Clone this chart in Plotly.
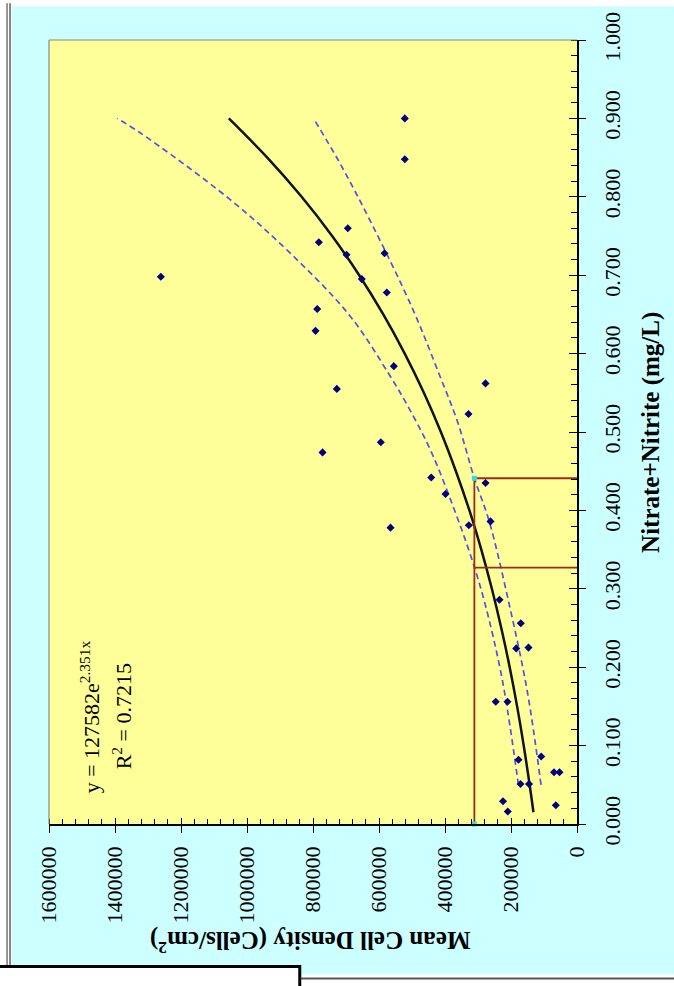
import plotly.graph_objects as go

# ---------------- data ----------------
nitrate = [0.900, 0.848, 0.698, 0.760, 0.742, 0.726, 0.728, 0.695, 0.678, 0.657,
           0.629, 0.584, 0.562, 0.555, 0.523, 0.487, 0.474, 0.442, 0.435, 0.421,
           0.381, 0.378, 0.386, 0.286, 0.256, 0.224, 0.225, 0.156, 0.156, 0.082,
           0.086, 0.066, 0.066, 0.051, 0.051, 0.029, 0.016, 0.024]
density = [521800, 521800, 1261100, 694500, 782300, 698400, 583300, 652100, 576300, 787200,
           792300, 555100, 277200, 727800, 328800, 594500, 771100, 441800, 277200, 398400,
           327800, 565100, 262100, 234800, 170300, 184200, 147000, 246300, 210600, 177300,
           108500, 69700, 53000, 171200, 145400, 224200, 209700, 64200]

fit_nitrate = [0.015, 0.05, 0.10, 0.15, 0.20, 0.25, 0.30, 0.35, 0.40, 0.45,
               0.50, 0.55, 0.60, 0.65, 0.70, 0.75, 0.80, 0.85, 0.90]
fit_density = [132000, 143500, 161500, 181500, 204000, 229500, 258000, 290000, 326000, 367000,
               412500, 464000, 522000, 587000, 660000, 742000, 834500, 938500, 1055000]

upper_nitrate = [0.05, 0.183, 0.285, 0.348, 0.407, 0.471, 0.522, 0.573, 0.649, 0.729, 0.797, 0.882, 0.90]
upper_density = [177600, 226000, 281300, 326700, 377200, 437700, 498200, 568700, 689700, 871200, 1052700, 1325000, 1393600]

lower_nitrate = [0.05, 0.17, 0.285, 0.386, 0.441, 0.513, 0.573, 0.657, 0.763, 0.844, 0.90]
lower_density = [109000, 151000, 208000, 266000, 311000, 362000, 417000, 498000, 619000, 720000, 798600]

ref_density = 311000
ref_nitrate = [0.327, 0.441]

x_ticks = [0, 200000, 400000, 600000, 800000, 1000000, 1200000, 1400000, 1600000]
y_ticks = [0.0, 0.1, 0.2, 0.3, 0.4, 0.5, 0.6, 0.7, 0.8, 0.9, 1.0]

equation = "y = 127582e<sup>2.351x</sup>"
r_squared = "R<sup>2</sup> = 0.7215"
x_title = "Nitrate+Nitrite (mg/L)"
y_title = "Mean Cell Density (Cells/cm<sup>2</sup>)"

# ---------------- layout geometry ----------------
W, H = 674, 986
L, R, T, B = 49, 577.5, 37, 824
SERIF = "Liberation Serif, Times New Roman, serif"


def px(X):
    return (X - L) / (R - L)


def py(Y):
    return (B - Y) / (B - T)


fig = go.Figure()

band_line = dict(color="#5050EE", width=1.7, dash="6px,4px", shape="spline")
fig.add_trace(go.Scatter(x=upper_density, y=upper_nitrate, mode="lines", line=band_line, hoverinfo="skip"))
fig.add_trace(go.Scatter(x=lower_density, y=lower_nitrate, mode="lines", line=band_line, hoverinfo="skip"))
fig.add_trace(go.Scatter(x=fit_density, y=fit_nitrate, mode="lines",
                         line=dict(color="#111111", width=2.5, shape="spline"), hoverinfo="skip"))

# reference lines
fig.add_trace(go.Scatter(x=[ref_density, ref_density], y=[0, max(ref_nitrate)], mode="lines",
                         line=dict(color="#9C2B1E", width=1.8), cliponaxis=False))
for rn in ref_nitrate:
    fig.add_trace(go.Scatter(x=[ref_density, 0], y=[rn, rn], mode="lines",
                             line=dict(color="#9C2B1E", width=1.8), cliponaxis=False))
fig.add_trace(go.Scatter(x=[ref_density, ref_density], y=[0, max(ref_nitrate)], mode="markers",
                         marker=dict(symbol="square", size=5, color="#33DDEE"), cliponaxis=False))

# data points
fig.add_trace(go.Scatter(x=density, y=nitrate, mode="markers",
                         marker=dict(symbol="diamond", size=6.2, color="#000080"),
                         cliponaxis=False))

# dummy trace for overlay axes (crossing major ticks)
fig.add_trace(go.Scatter(x=[None], y=[None], xaxis="x2", yaxis="y2", showlegend=False))

tickfont = dict(family=SERIF, size=22, color="#000000")

fig.update_layout(
    width=W, height=H,
    margin=dict(l=L, r=W - R, t=T, b=H - B, pad=0),
    paper_bgcolor="#CCFFFF",
    plot_bgcolor="#FFFF99",
    showlegend=False,
    xaxis=dict(range=[1600000, 0], tickvals=x_ticks, tickformat="d", tickangle=-90,
               ticks="outside", ticklen=7, tickwidth=1, tickcolor="#000000",
               minor=dict(ticks="inside", dtick=40000, ticklen=5, tickwidth=1, tickcolor="#000000"),
               showline=True, linecolor="#000000", linewidth=1.5,
               showgrid=False, zeroline=False, tickfont=tickfont, ticklabelstandoff=5),
    yaxis=dict(range=[0, 1], tickvals=y_ticks, tickformat=".3f", tickangle=-90, side="right",
               ticks="outside", ticklen=7, tickwidth=1, tickcolor="#000000",
               minor=dict(ticks="inside", dtick=0.02, ticklen=6, tickwidth=1, tickcolor="#000000"),
               showline=True, linecolor="#000000", linewidth=1.5,
               showgrid=False, zeroline=False, tickfont=tickfont, ticklabelstandoff=8),
    xaxis2=dict(range=[1600000, 0], overlaying="x", anchor="y2", side="bottom",
                tickvals=x_ticks, ticks="inside", ticklen=6, tickcolor="#000000",
                showticklabels=False, showline=False, showgrid=False, zeroline=False),
    yaxis2=dict(range=[0, 1], overlaying="y", anchor="x2", side="right",
                tickvals=y_ticks, ticks="inside", ticklen=8, tickcolor="#000000",
                showticklabels=False, showline=False, showgrid=False, zeroline=False),
)

# page decorations (white page outside the cyan chart area)
shapes = [
    dict(type="rect", xref="paper", yref="paper", x0=px(-5), x1=px(12), y0=py(995), y1=py(-5),
         fillcolor="#FFFFFF", line=dict(width=0), layer="below"),
    dict(type="rect", xref="paper", yref="paper", x0=px(-5), x1=px(680), y0=py(3), y1=py(-5),
         fillcolor="#FFFFFF", line=dict(width=0), layer="below"),
    dict(type="rect", xref="paper", yref="paper", x0=px(-5), x1=px(680), y0=py(995), y1=py(975),
         fillcolor="#FFFFFF", line=dict(width=0), layer="below"),
    dict(type="line", xref="paper", yref="paper", x0=px(7), x1=px(7), y0=py(968), y1=py(0),
         line=dict(color="#333333", width=1)),
    dict(type="line", xref="paper", yref="paper", x0=px(10), x1=px(10), y0=py(968), y1=py(0),
         line=dict(color="#111111", width=1)),
    dict(type="rect", xref="paper", yref="paper", x0=px(-3), x1=px(300), y0=py(992), y1=py(967),
         fillcolor="#FFFFFF", line=dict(color="#000000", width=3)),
    dict(type="line", xref="paper", yref="paper", x0=px(301), x1=px(680), y0=py(979), y1=py(979),
         line=dict(color="#555555", width=2)),
    dict(type="line", xref="paper", yref="paper", x0=0, x1=1, y0=1, y1=1,
         line=dict(color="#888888", width=1.2)),
    dict(type="line", xref="paper", yref="paper", x0=0, x1=0, y0=0, y1=1,
         line=dict(color="#888888", width=1.2)),
]
fig.update_layout(shapes=shapes)

annotations = [
    dict(text="<b>" + x_title + "</b>", textangle=-90, x=px(652), y=py(431),
         font=dict(family=SERIF, size=25, color="#000000")),
    dict(text="<b>" + y_title + "</b>", textangle=180, x=px(311), y=py(942),
         font=dict(family=SERIF, size=25, color="#000000")),
    dict(text=equation, textangle=-90, x=px(90), y=py(716),
         font=dict(family=SERIF, size=22, color="#000000")),
    dict(text=r_squared, textangle=-90, x=px(122), y=py(716),
         font=dict(family=SERIF, size=22, color="#000000")),
]
for a in annotations:
    a.update(xref="paper", yref="paper", showarrow=False, xanchor="center", yanchor="middle")
fig.update_layout(annotations=annotations)

fig.write_html("out.html", config={"displayModeBar": False},
               post_script="document.body.style.margin='0';document.body.style.padding='0';")
